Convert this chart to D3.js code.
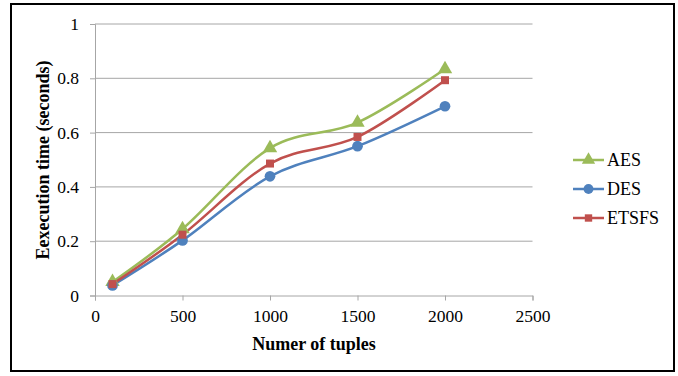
<!DOCTYPE html>
<html>
<head>
<meta charset="utf-8">
<script src="https://cdn.jsdelivr.net/npm/d3@7"></script>
<style>
  body { margin: 0; background: #fff; }
  svg { display: block; }
</style>
</head>
<body>
<div id="chart"></div>
<script>
const tuples = [100, 500, 1000, 1500, 2000];
const aes = [0.05, 0.245, 0.543, 0.637, 0.834];
const des = [0.037, 0.203, 0.439, 0.55, 0.697];
const etsfs = [0.042, 0.224, 0.486, 0.584, 0.793];
const seriesNames = ["AES", "DES", "ETSFS"];
const xTicks = [0, 500, 1000, 1500, 2000, 2500];
const yTicks = [0, 0.2, 0.4, 0.6, 0.8, 1];

const width = 678;
const height = 376;
const serif = "'Liberation Serif', 'Times New Roman', serif";

const series = [
  { name: seriesNames[0], values: aes, color: "#9bbb59", symbol: d3.symbolTriangle, size: 90 },
  { name: seriesNames[1], values: des, color: "#4f81bd", symbol: d3.symbolCircle, size: 90 },
  { name: seriesNames[2], values: etsfs, color: "#c0504d", symbol: d3.symbolSquare, size: 64 }
];

const svg = d3.select("#chart")
  .append("svg")
  .attr("width", width)
  .attr("height", height)
  .style("font-family", serif);

// outer frame
svg.append("rect")
  .attr("x", 11).attr("y", 4)
  .attr("width", 663).attr("height", 367)
  .attr("fill", "#fff")
  .attr("stroke", "#000")
  .attr("stroke-width", 2);

const x = d3.scaleLinear().domain([0, 2500]).range([95, 532.5]);
const y = d3.scaleLinear().domain([0, 1]).range([295.5, 24]);

// gridlines
svg.append("g")
  .selectAll("line")
  .data(yTicks.slice(1))
  .enter().append("line")
  .attr("x1", x(0)).attr("x2", x(2500))
  .attr("y1", d => y(d)).attr("y2", d => y(d))
  .attr("stroke", "#a6a6a6")
  .attr("stroke-width", 1);

// x axis
const xAxis = svg.append("g")
  .attr("transform", "translate(0," + y(0) + ")")
  .call(d3.axisBottom(x).tickValues(xTicks).tickSize(5).tickPadding(9).tickFormat(d3.format("d")));

// y axis
const yAxis = svg.append("g")
  .attr("transform", "translate(" + x(0) + ",0)")
  .call(d3.axisLeft(y).tickValues(yTicks).tickSize(5).tickPadding(11).tickFormat(d => d === 0 || d === 1 ? d : d.toFixed(1)));

[xAxis, yAxis].forEach(g => {
  g.select(".domain").attr("stroke", "#a6a6a6");
  g.selectAll(".tick line").attr("stroke", "#a6a6a6");
  g.selectAll(".tick text")
    .attr("fill", "#000")
    .style("font-size", "17.5px")
    .style("font-family", serif);
});

// axis titles
svg.append("text")
  .attr("x", 314).attr("y", 350)
  .attr("text-anchor", "middle")
  .style("font-size", "18px")
  .style("font-weight", "bold")
  .text("Numer of tuples");

svg.append("text")
  .attr("transform", "translate(49,160) rotate(-90)")
  .attr("text-anchor", "middle")
  .style("font-size", "18px")
  .style("font-weight", "bold")
  .text("Eexecution time (seconds)");

// lines
const line = d3.line()
  .x((d, i) => x(tuples[i]))
  .y(d => y(d))
  .curve(d3.curveCardinal.tension(0));

series.forEach(s => {
  svg.append("path")
    .datum(s.values)
    .attr("d", line)
    .attr("fill", "none")
    .attr("stroke", s.color)
    .attr("stroke-width", 2.5);
});

series.forEach(s => {
  svg.append("g")
    .selectAll("path")
    .data(s.values)
    .enter().append("path")
    .attr("transform", (d, i) => "translate(" + x(tuples[i]) + "," + y(d) + ")")
    .attr("d", d3.symbol().type(s.symbol).size(s.size))
    .attr("fill", s.color);
});

// legend
const legend = svg.append("g")
  .selectAll("g")
  .data(series)
  .enter().append("g")
  .attr("transform", (d, i) => "translate(573," + (160 + i * 29) + ")");

legend.append("line")
  .attr("x1", 0).attr("x2", 31)
  .attr("stroke", d => d.color)
  .attr("stroke-width", 2.5);

legend.append("path")
  .attr("transform", "translate(15.5,0)")
  .attr("d", d => d3.symbol().type(d.symbol).size(d.size * 0.85)())
  .attr("fill", d => d.color);

legend.append("text")
  .attr("x", 34).attr("y", 6)
  .style("font-size", "18px")
  .text(d => d.name);
</script>
</body>
</html>
